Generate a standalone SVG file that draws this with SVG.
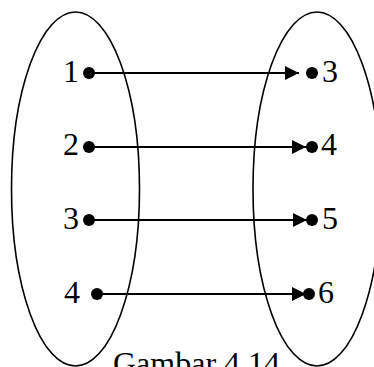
<svg xmlns="http://www.w3.org/2000/svg" width="374" height="367" viewBox="0 0 374 367">
<style>
.set{fill:none;stroke:#000;stroke-width:1.6}
.dot{fill:#000}
.lbl{font-family:"Liberation Serif","Times New Roman",serif;font-size:32px;fill:#000}
.arr{stroke:#000;stroke-width:2;fill:none}
</style>
<defs>
<marker id="ah" markerUnits="userSpaceOnUse" markerWidth="15" markerHeight="15" refX="14" refY="7" orient="auto">
<path d="M0,0 L14,7 L0,14 z" fill="#000"/>
</marker>
</defs>
<g id="setA"><ellipse class="set" cx="75.5" cy="189" rx="64" ry="177"/></g>
<g id="setB"><ellipse class="set" cx="317" cy="189" rx="64" ry="177"/></g>
<g id="connectors">
<line class="arr" x1="89" y1="73" x2="299" y2="73" marker-end="url(#ah)"/>
<line class="arr" x1="89" y1="147" x2="306" y2="147" marker-end="url(#ah)"/>
<line class="arr" x1="89" y1="220" x2="307" y2="220" marker-end="url(#ah)"/>
<line class="arr" x1="97" y1="294" x2="306" y2="294" marker-end="url(#ah)"/>
</g>
<g id="a1"><circle class="dot" cx="89" cy="73" r="6"/><text class="lbl" x="79" y="82" text-anchor="end">1</text></g>
<g id="a2"><circle class="dot" cx="89" cy="147" r="6"/><text class="lbl" x="79" y="155" text-anchor="end">2</text></g>
<g id="a3"><circle class="dot" cx="89" cy="220" r="6"/><text class="lbl" x="79" y="229" text-anchor="end">3</text></g>
<g id="a4"><circle class="dot" cx="97" cy="294" r="6"/><text class="lbl" x="80" y="303" text-anchor="end">4</text></g>
<g id="b3"><circle class="dot" cx="312" cy="73" r="6"/><text class="lbl" x="322" y="82">3</text></g>
<g id="b4"><circle class="dot" cx="312" cy="147" r="6"/><text class="lbl" x="321" y="155">4</text></g>
<g id="b5"><circle class="dot" cx="312" cy="220" r="6"/><text class="lbl" x="322" y="229">5</text></g>
<g id="b6"><circle class="dot" cx="309" cy="294" r="6"/><text class="lbl" x="318" y="303">6</text></g>
<text id="caption" class="lbl" x="113" y="374">Gambar 4.14</text>
</svg>
